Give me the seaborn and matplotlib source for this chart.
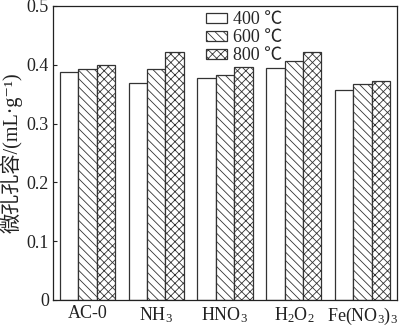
import matplotlib
matplotlib.use("Agg")
import matplotlib.pyplot as plt
import matplotlib.patches as mpatches
import seaborn as sns
import pandas as pd

# Micropore volume of activated carbons after different treatments
samples = ["AC-0", "NH$_3$", "HNO$_3$", "H$_2$O$_2$", "Fe(NO$_3$)$_3$"]
temps = ["400 ℃", "600 ℃", "800 ℃"]
vol_400 = [0.388, 0.369, 0.377, 0.394, 0.357]
vol_600 = [0.393, 0.392, 0.383, 0.407, 0.368]
vol_800 = [0.399, 0.421, 0.396, 0.422, 0.373]
y_ticks = [0, 0.1, 0.2, 0.3, 0.4, 0.5]
y_ticklabels = ["0", "0.1", "0.2", "0.3", "0.4", "0.5"]

rows = []
for t, vals in zip(temps, [vol_400, vol_600, vol_800]):
    for s, v in zip(samples, vals):
        rows.append({"sample": s, "temp": t, "vol": v})
df = pd.DataFrame(rows)

sns.set_style("ticks")
plt.rcParams["font.family"] = ["Liberation Serif", "Noto Sans CJK SC", "DejaVu Sans"]
plt.rcParams["mathtext.fontset"] = "custom"
plt.rcParams["mathtext.rm"] = "Liberation Serif"
plt.rcParams["mathtext.it"] = "Liberation Serif:italic"
plt.rcParams["mathtext.bf"] = "Liberation Serif:bold"
plt.rcParams["hatch.linewidth"] = 0.6

edge = "#333333"
ink = "#222222"
hatches = ["", "\\\\\\\\", "xxxx"]

fig = plt.figure(figsize=(4.0, 3.26), dpi=100)
ax = fig.add_axes([0.1325, 0.08, 0.86, 0.9016])

sns.barplot(data=df, x="sample", y="vol", hue="temp", order=samples,
            hue_order=temps, palette=["white"] * 3, edgecolor=edge,
            linewidth=0.9, width=0.8, saturation=1, ax=ax, legend=False)

for cont, h in zip(ax.containers, hatches):
    for bar in cont:
        bar.set_hatch(h)
        bar.set_edgecolor(edge)
        bar.set_facecolor("white")

ax.set_xlim(-0.5, 4.5)
ax.set_ylim(0, 0.5)
ax.set_yticks(y_ticks)
ax.set_yticklabels(y_ticklabels)
ax.tick_params(axis="both", direction="in", length=3, width=0.8,
               labelsize=13, colors=ink, pad=3)
ax.tick_params(axis="x", pad=4)
for sp in ax.spines.values():
    sp.set_visible(True)
    sp.set_linewidth(0.9)
    sp.set_color(ink)

ax.set_xlabel("")
ax.set_ylabel("微孔孔容/(mL·g⁻¹)", fontsize=14.5, labelpad=3, color=ink)

handles = [mpatches.Patch(facecolor="white", edgecolor=edge, hatch=h,
                          linewidth=0.9, label=t)
           for t, h in zip(temps, hatches)]
ax.legend(handles=handles, loc="upper left", bbox_to_anchor=(0.43, 1.0),
          frameon=False, fontsize=13, handlelength=1.15, handleheight=0.5,
          handletextpad=0.3, labelspacing=0.05, borderaxespad=0.1,
          borderpad=0.2)

fig.savefig("out.png", dpi=100)
